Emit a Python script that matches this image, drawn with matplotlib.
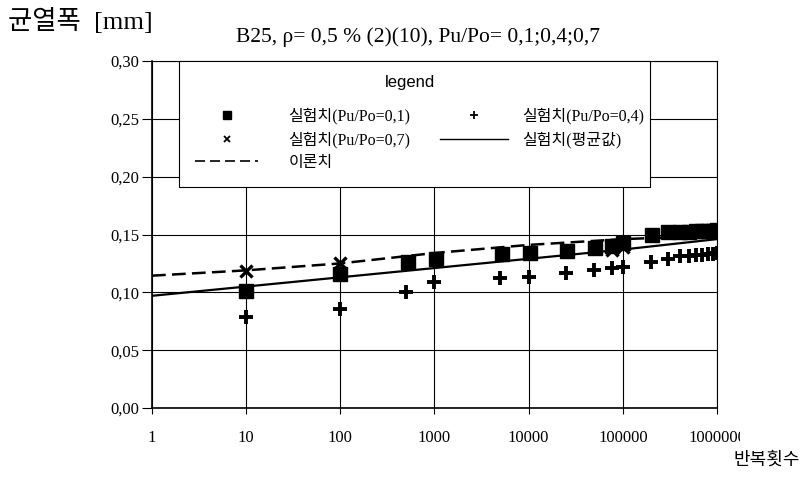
import matplotlib
matplotlib.use("Agg")
import matplotlib.pyplot as plt
from matplotlib.lines import Line2D
from matplotlib.patches import Rectangle
from matplotlib.legend_handler import HandlerLine2D
from matplotlib.ticker import FixedLocator, FuncFormatter
from matplotlib.transforms import Bbox

# test values, Pu/Po = 0,1 (squares)
n_01 = [10, 100, 520, 1050, 5200, 10300, 25700, 50500, 76000, 100000, 204000,
        300000, 400000, 500000, 600000, 700000, 800000, 900000, 1000000]
w_01 = [0.101, 0.1156, 0.1265, 0.1285, 0.133, 0.134, 0.136, 0.138, 0.140, 0.143, 0.150,
        0.152, 0.152, 0.152, 0.153, 0.153, 0.153, 0.153, 0.154]

# Pu/Po = 0,4 (plus)
n_04 = [10, 100, 495, 1000, 5000, 10000, 25000, 50000, 76000, 100000, 200000,
        300000, 400000, 500000, 600000, 700000, 800000, 900000, 1000000]
w_04 = [0.0784, 0.0853, 0.1006, 0.109, 0.112, 0.113, 0.1164, 0.119, 0.1208, 0.122, 0.1265,
        0.129, 0.131, 0.131, 0.132, 0.132, 0.133, 0.133, 0.134]

# Pu/Po = 0,7 (cross)
n_07 = [10, 100, 76000, 100000]
w_07 = [0.1187, 0.125, 0.137, 0.139]

# mean of tests and theory
n_line = [1, 10, 100, 1000, 10000, 100000, 1000000]
w_avg = [0.097, 0.105, 0.113, 0.121, 0.129, 0.137, 0.146]
w_th = [0.1144, 0.119, 0.125, 0.134, 0.141, 0.146, 0.149]

y_ticks = [0.0, 0.05, 0.10, 0.15, 0.20, 0.25, 0.30]
x_ticks = [1, 10, 100, 1000, 10000, 100000, 1000000]

serif_kr = ['Liberation Serif', 'Noto Sans CJK KR', 'DejaVu Sans']


class MarkerAt(HandlerLine2D):
    # legend marker not centred on the handle, like the original
    def __init__(self, frac, **kw):
        super().__init__(**kw)
        self.frac = frac

    def get_xdata(self, legend, xdescent, ydescent, width, height, fontsize):
        xdata, _ = super().get_xdata(legend, xdescent, ydescent, width, height, fontsize)
        return xdata, [-xdescent + self.frac * width]


W, H = 803, 495
X0, X1, Y0, Y1 = 152, 717, 61, 408   # plot area in pixels


def ax_x(px):
    return (px - X0) / (X1 - X0)


def ax_y(py):
    return (Y1 - py) / (Y1 - Y0)


fig = plt.figure(figsize=(W / 100, H / 100), dpi=100)
ax = fig.add_axes([X0 / W, 1 - Y1 / H, (X1 - X0) / W, (Y1 - Y0) / H])

ax.plot(n_line, w_th, color='k', lw=1.8, ls='--', dashes=(5.5, 2.5), zorder=3)
ax.plot(n_line, w_avg, color='k', lw=1.6, zorder=3)
ax.plot(n_07, w_07, ls='none', marker='x', ms=9, mew=2.4, color='k', zorder=4)
ax.plot(n_04, w_04, ls='none', marker='+', ms=10, mew=2.8, color='k', zorder=4)
ax.plot(n_01, w_01, ls='none', marker='s', ms=10, color='k', zorder=5)

ax.set_xscale('log')
ax.set_xlim(1, 1000000)
ax.set_ylim(0, 0.30)
ax.xaxis.set_major_locator(FixedLocator(x_ticks))
ax.xaxis.set_minor_locator(FixedLocator([]))
ax.xaxis.set_major_formatter(FuncFormatter(lambda v, p: str(int(round(v)))))
ax.yaxis.set_major_locator(FixedLocator(y_ticks))
ax.yaxis.set_major_formatter(FuncFormatter(lambda v, p: f"{v:.2f}".replace('.', ',')))

ax.grid(True, color='k', lw=0.8)
for s in ax.spines.values():
    s.set_color('k')
    s.set_linewidth(0.8)
ax.spines['left'].set_linewidth(1.2)
ax.spines['bottom'].set_linewidth(1.2)
ax.tick_params(axis='y', direction='out', length=7, width=0.8, pad=2)
ax.tick_params(axis='x', direction='out', length=4, width=0.8, pad=12)
for lab in ax.get_xticklabels() + ax.get_yticklabels():
    lab.set_fontfamily('Liberation Serif')
    lab.set_fontsize(12)

# last label is cut off in the original
last = ax.get_xticklabels()[-1]
last.set_clip_on(True)
last.set_clip_box(Bbox.from_extents(0, 0, 740, H))

# legend frame
ax.add_patch(Rectangle((ax_x(179), ax_y(187)), ax_x(650) - ax_x(179), 1 - ax_y(187),
                       transform=ax.transAxes, facecolor='white', edgecolor='k',
                       lw=0.8, zorder=6, clip_on=False))
ax.text(ax_x(410), ax_y(83), 'legend', transform=ax.transAxes, ha='center', va='center',
        family='Liberation Sans', fontsize=12, zorder=8)

h_sq = Line2D([], [], ls='none', marker='s', ms=5.5, color='k')
h_x = Line2D([], [], ls='none', marker='x', ms=4.5, mew=1.3, color='k')
h_th = Line2D([], [], ls='--', lw=1.2, dashes=(6, 3), color='k')
h_pl = Line2D([], [], ls='none', marker='+', ms=5.5, mew=1.3, color='k')
h_avg = Line2D([], [], ls='-', lw=1.0, color='k')

leg_font = {'family': serif_kr, 'size': 11.5}
leg1 = ax.legend([h_sq, h_x, h_th], ['실험치(Pu/Po=0,1)', '실험치(Pu/Po=0,7)', '이론치'],
                 loc='upper left', bbox_to_anchor=(ax_x(195), ax_y(108)),
                 borderaxespad=0, borderpad=0, frameon=False,
                 handlelength=3.95, handletextpad=1.9, labelspacing=0.42, prop=leg_font,
                 handler_map={h_sq: MarkerAt(0.68), h_x: MarkerAt(0.68)})
leg1.set_zorder(7)
ax.add_artist(leg1)
leg2 = ax.legend([h_pl, h_avg], ['실험치(Pu/Po=0,4)', '실험치(평균값)'],
                 loc='upper left', bbox_to_anchor=(ax_x(440), ax_y(108)),
                 borderaxespad=0, borderpad=0, frameon=False,
                 handlelength=4.25, handletextpad=0.9, labelspacing=0.42, prop=leg_font,
                 handler_map={h_pl: MarkerAt(0.45)})
leg2.set_zorder(7)

fig.text(8 / W, 1 - 21 / H, '균열폭  [mm]', ha='left', va='center',
         family=serif_kr, fontsize=19)
fig.text(236 / W, 1 - 37 / H, 'B25, ρ= 0,5 % (2)(10), Pu/Po= 0,1;0,4;0,7',
         ha='left', va='center', family=serif_kr, fontsize=15.5)
fig.text(800 / W, 1 - 460 / H, '반복횟수', ha='right', va='center',
         family=serif_kr, fontsize=13)

fig.savefig('out.png', dpi=100)
